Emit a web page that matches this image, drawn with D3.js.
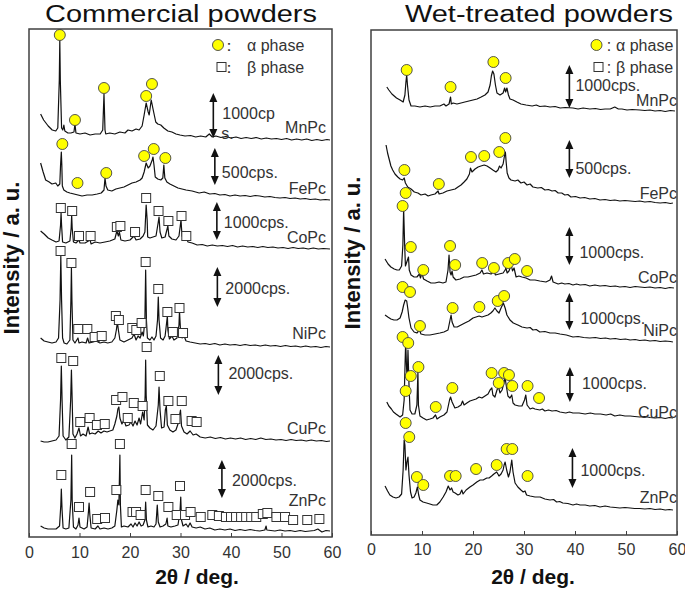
<!DOCTYPE html>
<html><head><meta charset="utf-8">
<script src="https://cdn.jsdelivr.net/npm/d3@7"></script>
<style>body{margin:0;background:#fff}svg{display:block}text{font-family:"Liberation Sans",Arial,sans-serif}</style>
</head><body><svg id="c" width="685" height="592"></svg>
<script>
// ---------- DATA ----------
const samples = ["MnPc","FePc","CoPc","NiPc","CuPc","ZnPc"];
const xTicks = [0,10,20,30,40,50,60];
// stacking offsets (a.u.) of each pattern
const comOffsets = [397,337,288,190,96,6];
const wetOffsets = [424,332,247,194,117,25];
const comScaleText = ["1000cp\ns.","500cps.","1000cps.","2000cps.","2000cps.","2000cps."];
const wetScaleText = ["1000cps.","500cps.","1000cps.","1000cps.","1000cps.","1000cps."];

// Commercial powders: [2theta, intensity a.u.]
const comMn = [[2.3,26],[2.9,20],[3.8,14],[4.6,10],[5.3,9],[5.7,12],[6.0,60],[6.1,100],[6.2,60],[6.45,12],[6.7,10],[6.9,15],[7.1,9],[7.7,7],[8.3,7],[8.9,8],[9.1,16],[9.3,7],[10.1,6],[11.1,7],[12.1,5],[13.1,6],[14.1,6],[14.6,10],[14.85,46],[15.05,10],[15.2,6],[16.0,7],[17.0,6],[18.0,8],[19.0,7],[19.6,10],[20.4,9],[21.2,11],[21.8,10],[22.4,14],[22.8,25],[23.2,37],[23.6,28],[23.8,25],[24.2,40],[24.6,30],[25.1,18],[25.5,16],[26.1,15],[26.7,12],[27.5,9],[28.3,8],[29.1,6],[29.9,5],[30.9,4],[32,4.5],[33,3],[34,4],[35,3],[35.7,6],[36.3,3],[37,4],[38,2.5],[39,3.5],[40,2],[41,3],[42,1.5],[43,2.5],[44,1.5],[45,2.5],[46,1],[47,2],[48,1],[49,1.5],[50,0.5],[51,1.5],[52,0],[53,1],[54,0],[55,1],[56,-0.5],[57,0.5],[58,-0.5],[59,0.5],[59.6,0]];
const comMnA = [[6.1,105],[9.1,20],[14.85,52],[23.2,44],[24.35,56]];

const comFe = [[2.3,37],[2.8,28],[3.3,20],[4.0,18],[4.55,16],[5.3,17],[5.7,14],[6.1,16],[6.25,35],[6.4,48],[6.5,35],[6.6,14],[6.9,10],[7.5,8],[8.1,7],[8.9,6],[9.7,5],[10.5,4],[11.5,5],[12.5,5],[13.5,6],[14.3,7],[14.85,10],[15.05,22],[15.25,14],[15.6,10],[16.4,9],[17.2,11],[18.0,12],[18.8,13],[19.6,15],[20.4,17],[21.2,18],[22.0,20],[22.4,22],[22.8,28],[23.2,37],[23.6,32],[23.95,34],[24.4,40],[24.55,43],[24.75,35],[25.0,23],[25.5,21],[26.1,20],[26.5,22],[26.7,35],[26.9,22],[27.3,18],[27.9,16],[28.7,14],[29.5,12],[30.3,11],[31.1,10],[32.3,9],[33.7,7],[34.7,8],[35.8,6],[36.8,6.5],[37.8,5],[38.8,5.5],[39.8,4],[40.8,5],[41.8,4],[42.8,4.5],[43.8,3.5],[44.8,4.5],[45.7,4],[46.7,3],[47.7,3.5],[48.7,2.5],[49.7,2],[50.7,2.5],[51.7,1.5],[52.7,2],[53.7,1],[54.7,1.5],[55.7,0.5],[56.7,1],[57.7,0],[58.7,0.5],[59.6,0]];
const comFeA = [[6.6,56],[9.6,17],[15.3,27],[22.8,44],[24.7,51],[27.0,42]];

const comCo = [[2.3,18],[3.0,15],[3.8,11],[4.55,9],[5.35,7],[5.95,8],[6.25,24],[6.35,36],[6.45,24],[6.65,7],[7.3,6],[8.1,8],[8.35,21],[8.45,34],[8.55,21],[8.8,7],[9.3,6],[9.9,9],[10.1,6],[11.1,6],[12.1,9],[12.3,5],[13.1,7],[14.05,6],[15.05,7],[16.0,8],[17.0,10],[17.4,18],[17.7,13],[17.9,17],[18.2,9],[19.0,8],[20.0,9],[20.8,13],[21.2,9],[22.0,10],[22.6,13],[22.95,17],[23.2,44],[23.4,29],[23.5,12],[23.95,11],[24.55,12],[25.15,13],[25.6,27],[25.75,32],[25.95,17],[26.3,11],[26.95,12],[27.5,23],[27.7,13],[28.3,10],[29.1,9],[29.7,13],[30.1,29],[30.3,13],[30.7,9],[31.1,11],[31.5,7],[32.3,6],[33.3,4],[34.3,4.5],[35.3,3],[36.3,4],[37.3,3],[38.3,3.5],[39.3,2.5],[40.3,3.5],[41.3,2],[42.3,3],[43.3,2],[44.3,2.5],[45.3,1.5],[46.3,2.5],[47.3,1.5],[48.3,2],[49.3,1],[50.3,1.5],[51.3,0.5],[52.3,1.5],[53.3,0.5],[54.3,1],[55.3,0],[56.3,1],[57.3,0],[58.3,0.5],[59.6,0]];
const comCoB = [[6.3,41],[8.55,38],[9.9,13],[12.2,13],[17.4,22],[18.1,23],[21.0,17],[23.2,51],[25.65,38],[27.6,28],[30.2,33],[31.15,13]];

const comNi = [[2.3,9],[3.0,6],[3.75,5],[4.55,4],[5.35,5],[5.85,9],[6.15,47],[6.3,91],[6.45,47],[6.65,9],[6.95,4],[7.5,3],[8.1,7],[8.3,47],[8.4,79],[8.5,47],[8.7,7],[9.1,4],[9.7,9],[9.9,4],[10.5,5],[11.3,4],[11.6,9],[11.9,4],[12.7,5],[13.3,6],[14.05,4],[14.85,5],[15.6,4],[16.4,5],[17.0,9],[17.3,17],[17.5,25],[17.7,17],[18.0,7],[18.8,5],[19.6,7],[20.4,9],[20.8,13],[21.2,7],[21.6,11],[22.0,9],[22.4,15],[22.65,11],[22.95,27],[23.1,77],[23.25,27],[23.45,9],[23.95,7],[24.35,10],[24.75,7],[25.15,11],[25.45,27],[25.6,50],[25.75,27],[26.05,9],[26.55,7],[26.95,11],[27.2,22],[27.4,31],[27.5,17],[27.8,8],[28.3,11],[28.7,7],[29.3,9],[29.7,22],[29.8,36],[30.0,17],[30.3,9],[30.7,11],[31.1,6],[31.9,5],[32.9,4],[33.9,3],[34.9,3.5],[35.8,2.5],[36.8,3.5],[37.8,2],[38.8,3],[39.8,2],[40.8,2.5],[41.8,1.5],[42.8,2.5],[43.8,1.5],[44.8,2],[45.8,1],[46.8,2],[47.8,1],[48.8,1.5],[49.8,0.5],[50.8,1.5],[51.8,0.5],[52.8,1],[53.8,0],[54.8,1],[55.8,0],[56.8,0.5],[57.8,-0.5],[58.8,0.5],[59.6,0]];
const comNiB = [[6.25,96],[8.4,84],[9.75,18],[11.55,18],[13.0,10],[14.4,11],[17.2,31],[17.8,27],[20.45,19],[21.25,17],[22.3,24],[23.1,85],[25.6,58],[27.4,35],[28.5,15],[29.8,39],[30.5,14]];

const comCu = [[2.3,0],[3.0,-1],[3.75,-1],[4.55,0],[5.35,1],[5.95,5],[6.25,41],[6.4,75],[6.55,41],[6.75,5],[7.3,1],[7.9,4],[8.25,41],[8.4,71],[8.55,41],[8.7,7],[9.1,3],[9.5,7],[9.9,13],[10.2,5],[10.7,7],[11.3,5],[11.7,14],[12.0,7],[12.5,8],[13.1,7],[13.7,10],[14.25,8],[14.85,10],[15.45,9],[16.0,10],[16.6,11],[17.0,17],[17.4,25],[17.6,32],[17.8,34],[18.0,23],[18.4,17],[18.8,21],[19.2,15],[19.8,16],[20.2,19],[20.6,15],[21.0,20],[21.4,16],[21.8,23],[22.1,17],[22.5,29],[22.8,21],[23.0,46],[23.1,81],[23.2,46],[23.45,16],[23.95,13],[24.55,11],[25.15,15],[25.6,36],[25.75,54],[25.95,31],[26.25,13],[26.75,14],[27.0,31],[27.2,35],[27.4,16],[27.9,11],[28.5,9],[29.1,11],[29.5,17],[30.0,31],[30.2,15],[30.7,9],[31.3,7],[31.9,10],[32.5,6],[33.1,7],[33.9,4],[34.9,3],[35.9,4],[36.9,2.5],[37.9,3.5],[38.9,2],[39.9,3],[40.9,2],[41.9,3],[42.9,1.5],[43.9,2.5],[44.9,1.5],[45.9,3],[46.9,1.5],[47.9,2],[48.9,1],[49.9,1.5],[50.9,0.5],[51.9,1.5],[52.9,0.5],[53.9,1],[54.9,0],[55.9,1],[56.9,0],[57.9,0.5],[58.9,-0.5],[59.6,0]];
const comCuB = [[6.4,83],[8.75,80],[10.15,19],[12.0,23],[13.45,16],[15.0,17],[17.25,41],[18.5,44],[19.55,23],[20.75,38],[22.5,35],[23.3,94],[25.9,65],[27.6,40],[29.0,22],[30.25,40],[32.2,20],[33.2,19]];

const comZn = [[2.3,5],[3.0,3],[3.75,2],[4.55,2],[5.35,2],[6.05,5],[6.3,26],[6.4,42],[6.55,21],[6.75,3],[7.3,2],[7.9,3],[8.3,31],[8.45,76],[8.55,31],[8.8,4],[9.3,2],[9.7,6],[9.9,13],[10.1,4],[10.9,2],[11.5,4],[11.8,21],[11.9,28],[12.05,16],[12.3,3],[13.1,2],[13.65,5],[14.05,2],[14.85,3],[15.65,2],[16.4,3],[17.0,5],[17.4,21],[17.6,31],[17.8,26],[18.0,76],[18.1,26],[18.3,4],[18.8,5],[19.6,4],[20.2,7],[20.6,4],[21.0,8],[21.4,5],[21.8,9],[22.2,5],[22.6,6],[22.95,11],[23.1,29],[23.25,11],[23.55,4],[24.15,5],[24.75,4],[25.15,7],[25.4,26],[25.6,9],[25.95,4],[26.55,5],[27.1,7],[27.35,13],[27.5,5],[28.1,4],[28.9,5],[29.5,6],[29.9,19],[30.05,34],[30.2,11],[30.5,5],[31.1,7],[31.5,4],[31.9,8],[32.3,4],[33.1,3],[33.9,4],[34.85,2],[35.8,3],[36.8,1],[37.8,2],[38.8,1],[39.8,2],[40.8,0.5],[41.8,1.5],[42.8,0.5],[43.8,1.5],[44.8,0.5],[45.7,0],[46.7,1],[46.95,5],[47.1,1],[47.9,0.5],[48.7,0],[49.7,1],[50.7,0],[51.7,0.5],[52.7,-0.5],[53.7,0.5],[54.7,-0.5],[55.6,0],[56.5,0.5],[57.2,2],[58.0,-1],[58.8,0.5],[59.6,0]];
const comZnB = [[6.4,56],[8.45,87],[9.9,24],[12.1,39],[13.5,12],[15.05,13],[17.3,41],[18.0,87],[20.5,19],[21.2,19],[22.1,16],[23.1,41],[25.6,35],[27.6,24],[29.25,16],[29.9,45],[30.9,16],[32.0,19],[34.0,14],[36.3,16],[37.6,15],[39.0,14],[40.0,14],[41.0,14],[42.0,14],[43.0,14],[44.0,14],[45.0,14],[46.3,17],[47.2,18],[49.0,14],[50.7,14],[52.3,11],[55.1,11],[57.5,12]];

// Wet-treated powders
const wetMn = [[3.1,24],[3.5,21],[4.1,17],[5.0,13],[5.7,11],[6.3,9],[6.65,16],[6.85,29],[7.0,36],[7.15,26],[7.45,11],[7.85,5],[8.6,5],[9.6,4],[10.6,5],[11.6,4],[12.55,5],[13.5,5],[14.3,7],[14.7,5],[15.3,7],[15.6,14],[15.75,7],[16.1,8],[16.85,7],[17.65,8],[18.4,9],[19.2,10],[20.0,11],[20.8,12],[21.6,14],[22.35,16],[22.95,19],[23.35,26],[23.6,35],[23.85,40],[24.1,37],[24.4,26],[24.7,18],[25.3,16],[25.9,18],[26.2,23],[26.4,19],[26.65,23],[26.95,16],[27.25,12],[27.85,11],[28.6,9],[29.4,7],[30.4,6],[31.6,5],[32.4,6],[33.1,4.5],[34.1,5],[35.1,4],[36.1,4.5],[37.1,3],[38.1,3.5],[39.6,3],[40.6,2],[41.6,3],[42.9,2],[44,2.5],[45,1.5],[45.9,2],[46.9,2],[47.8,4],[48.5,2],[49.2,2],[50.2,1],[51.2,1.5],[52.7,1],[53.7,0.5],[54.7,1],[55.7,0],[56.7,0.5],[57.7,-0.5],[58.7,0.5],[59.6,0]];
const wetMnA = [[7.0,41],[15.6,24],[24.0,49],[26.4,33]];

const wetFe = [[2.95,58],[3.25,50],[3.6,43],[3.9,37],[4.25,33],[4.7,29],[5.25,26],[5.7,24],[6.2,23],[6.5,25],[6.75,20],[7.2,16],[7.85,14],[8.5,11],[9.2,10],[9.8,8],[10.6,9],[11.2,7],[11.75,8],[12.55,9],[13.15,12],[13.35,9],[14.1,10],[14.9,12],[15.7,13],[16.5,14],[17.05,16],[17.65,18],[18.25,21],[18.8,24],[19.3,29],[19.5,35],[19.8,31],[20.4,34],[21.0,36],[21.55,37],[22.2,38],[22.75,37],[23.35,35],[23.9,33],[24.5,31],[24.9,33],[25.2,37],[25.5,35],[25.9,39],[26.2,48],[26.35,51],[26.5,41],[26.7,30],[27.05,25],[27.45,23],[28.25,22],[28.8,23],[29.4,20],[30.0,21],[30.6,18],[31.2,19],[31.75,16],[32.7,15],[33.4,15.5],[34.1,13],[34.8,13.5],[35.5,12],[36.1,12.5],[36.7,10],[37.4,10],[38.0,8],[38.6,8.5],[39.2,6],[40.1,6.5],[41.0,5],[41.9,5.5],[42.9,4],[43.9,4.5],[44.9,3],[45.9,3.5],[46.9,2.5],[47.8,3],[48.8,2],[49.8,2.5],[50.8,2],[51.8,1.5],[52.7,2],[53.7,1],[54.7,1.5],[55.7,0.5],[56.7,0],[57.7,0.5],[58.7,-0.5],[59.2,0]];
const wetFeA = [[6.55,33],[13.3,19],[19.6,46],[22.2,47],[25.15,51],[26.35,65]];

const wetCo = [[2.75,29],[3.35,24],[3.9,21],[4.55,19],[5.1,18],[5.55,18],[6.0,22],[6.25,43],[6.4,79],[6.6,43],[6.75,22],[7.15,28],[7.35,31],[7.5,18],[7.85,13],[8.45,11],[9.0,11],[9.5,14],[9.7,10],[10.0,15],[10.3,9],[11.0,7],[11.75,5],[12.55,5],[13.35,6],[14.1,5],[14.7,6],[15.1,18],[15.3,33],[15.5,16],[15.7,13],[15.9,17],[16.1,11],[16.65,8],[17.45,9],[18.25,11],[19.0,11],[19.8,12],[20.6,13],[21.4,15],[21.75,18],[22.05,14],[22.75,15],[23.55,14],[24.1,17],[24.4,13],[25.1,14],[25.9,15],[26.3,18],[26.45,20],[26.7,15],[27.05,17],[27.5,23],[27.75,17],[28.05,20],[28.45,11],[29.0,12],[29.6,11],[30.4,10],[31.2,8],[32.15,8],[33.1,7],[34.3,6],[35.1,8],[35.4,12],[35.7,6],[36.7,4],[37.4,5],[38.0,4],[38.8,4.5],[39.6,3],[40.3,4],[41.0,3],[42.0,3.5],[42.9,2],[43.9,3],[44.9,2],[45.9,2.5],[46.9,1.5],[47.9,2],[48.8,1],[49.8,1.5],[50.8,0.5],[51.8,1.5],[52.7,1],[53.7,0.5],[54.7,1],[55.7,0],[56.7,0.5],[57.7,-0.5],[58.6,0.5],[59.4,0]];
const wetCoA = [[6.2,82],[6.8,95],[7.8,41],[10.25,18],[15.5,42],[16.5,23],[21.8,25],[24.1,20],[26.9,25],[28.2,29],[30.6,17]];

const wetNi = [[2.75,26],[3.3,24],[3.9,22],[4.5,21],[5.1,21],[5.7,23],[6.1,29],[6.4,36],[6.7,41],[7.0,40],[7.2,33],[7.45,23],[7.85,13],[8.45,9],[9.0,8],[9.5,11],[9.8,7],[10.6,6],[11.55,6],[12.55,7],[13.5,8],[14.3,9],[15.1,11],[15.5,21],[15.7,26],[15.9,19],[16.3,14],[16.9,14],[17.65,16],[18.4,18],[19.2,20],[20.0,23],[20.6,24],[21.2,25],[21.75,24],[22.35,25],[22.95,26],[23.5,28],[23.9,30],[24.3,33],[24.7,30],[25.1,28],[25.5,33],[25.95,38],[26.3,33],[26.65,26],[27.25,21],[27.9,18],[28.8,16],[29.6,14],[30.6,13],[31.2,13.5],[31.75,11],[32.4,11.5],[33.1,9],[34.1,9.5],[35.1,8],[36.1,8],[37.05,7],[38.3,6],[39.6,4],[40.6,4.5],[41.7,3.5],[42.9,3],[44.0,3.5],[45.0,2.5],[46.0,3],[46.9,2],[47.9,2.5],[48.9,1.5],[49.9,2],[50.8,1],[51.8,1.5],[52.7,0.5],[53.7,1],[54.7,0],[55.7,0.5],[56.7,-0.5],[57.7,0],[58.7,-0.5],[59.2,-1]];
const wetNiA = [[6.2,54],[7.65,49],[9.6,15],[16.0,33],[21.25,34],[24.85,40],[26.1,45]];

const wetCu = [[3.1,16],[3.5,12],[4.0,9],[4.4,6],[4.9,4],[5.7,1],[6.2,3],[6.5,18],[6.7,58],[6.8,76],[6.95,53],[7.1,38],[7.25,68],[7.45,33],[7.65,8],[8.05,4],[8.6,4],[9.0,13],[9.2,46],[9.3,13],[9.6,2],[10.2,0],[10.9,-2],[11.55,-1],[12.15,0],[12.65,3],[12.95,-1],[13.5,1],[14.3,3],[14.9,6],[15.4,18],[15.6,21],[15.9,16],[16.45,10],[17.05,11],[17.65,13],[17.95,17],[18.25,13],[18.8,15],[19.4,17],[20.0,18],[20.6,19],[21.2,21],[21.75,20],[22.35,22],[22.95,24],[23.35,28],[23.7,30],[23.9,23],[24.3,21],[24.7,28],[25.0,31],[25.3,25],[25.7,28],[26.1,36],[26.3,40],[26.5,33],[26.85,22],[27.25,20],[27.6,23],[27.85,15],[28.25,13],[29.0,12],[29.6,12],[30.1,18],[30.35,23],[30.6,13],[31.2,9],[31.7,10],[32.15,9],[33.1,8],[33.6,9],[34.1,7],[34.8,8],[35.5,7],[36.3,7.5],[37.05,6],[38.2,5],[38.9,6],[39.6,5],[40.8,5],[42.0,4],[43.0,5],[43.9,4],[45.0,4],[46.1,3],[47.0,4],[47.8,2],[48.8,3],[49.8,2],[50.8,2],[51.7,1.5],[52.7,1],[53.7,1.5],[54.7,0.5],[55.7,0],[56.7,0.5],[57.7,-0.5],[58.5,0.5],[59.2,0]];
const wetCuA = [[6.2,81],[7.3,75],[9.3,51],[7.8,42],[6.8,27],[12.7,11],[15.95,30],[23.65,45],[26.1,45],[27.05,43],[25.05,35],[27.7,32],[30.7,32],[32.95,20]];

const wetZn = [[2.75,24],[3.25,19],[3.7,15],[4.3,13],[4.9,12],[5.5,13],[6.0,16],[6.3,40],[6.5,70],[6.65,65],[6.85,40],[7.05,48],[7.25,53],[7.45,35],[7.75,18],[8.05,12],[8.45,13],[8.8,17],[9.1,23],[9.35,15],[9.6,10],[10.2,8],[10.9,7],[11.55,6],[12.15,5],[12.9,5],[13.5,8],[14.15,13],[14.7,18],[15.15,24],[15.5,20],[15.8,22],[16.1,18],[16.5,17],[17.05,15],[17.45,16],[17.8,20],[18.05,16],[18.65,20],[19.4,23],[20.0,25],[20.75,28],[21.4,30],[22.0,30],[22.7,32],[23.15,32],[23.65,34],[24.1,36],[24.65,38],[25.1,34],[25.5,36],[25.9,40],[26.1,45],[26.3,48],[26.6,40],[26.95,33],[27.25,38],[27.6,50],[27.85,38],[28.25,27],[28.8,23],[29.4,20],[29.85,18],[30.2,19],[30.5,15],[31.2,14],[32.15,13],[33.15,13],[34.1,11],[35.1,10],[35.8,10.5],[36.4,8],[37.0,8.5],[37.6,7],[38.6,6.5],[39.6,5],[40.3,6],[41.0,5],[42.0,5],[42.9,4],[43.9,4.5],[44.9,3],[45.9,4],[46.9,3],[47.9,2.5],[48.8,2],[49.8,2.5],[50.8,2],[51.7,1.5],[52.7,1.5],[53.7,1],[54.7,1.5],[55.7,0.5],[56.7,1],[57.7,0],[58.5,0.5],[59.2,0]];
const wetZnA = [[6.8,87],[7.5,73],[9.0,33],[10.25,25],[15.5,34],[16.6,34],[20.6,41],[24.65,45],[26.6,61],[27.7,61],[30.7,34]];

const comTraces = [comMn, comFe, comCo, comNi, comCu, comZn];
const comAlpha = [comMnA, comFeA, [], [], [], []];
const comBeta = [[], [], comCoB, comNiB, comCuB, comZnB];
const wetTraces = [wetMn, wetFe, wetCo, wetNi, wetCu, wetZn];
const wetAlpha = [wetMnA, wetFeA, wetCoA, wetNiA, wetCuA, wetZnA];

// ---------- LAYOUT ----------
const panels = [
  {title:"Commercial powders", titleX:181, titleLen:272, x0:29, x1:332, y0:29, y1:537, yMax:508,
   traces:comTraces, offsets:comOffsets, alpha:comAlpha, beta:comBeta, scaleText:comScaleText,
   barX:[36.5,36.8,37.2,37.3,37.5,38.2], bar:[[2,47],[15,52],[9,47],[40,80],[46,86],[33,71]],
   textDx:[9,7,7,8,10,10], textI:[27,28,27,59,68,51], nameI:[13,12,12,14,13,31], nameX:326,
   yLabel:[19,258], xLabelX:197, tickPad:10,
   legend:{cx:218, cy:45, sx:221.5, sy:67, colon:"：", colonX:229, textX:247}},
  {title:"Wet-treated powders", titleX:539, titleLen:268, x0:371, x1:677, y0:30, y1:535, yMax:505,
   traces:wetTraces, offsets:wetOffsets, alpha:wetAlpha, beta:[[],[],[],[],[],[]], scaleText:wetScaleText,
   barX:[38.9,38.9,38.9,38.9,39.0,39.5], bar:[[3,46],[25,63],[23,61],[11,48],[16,51],[22,62]],
   textDx:[6,6,10,11,12,8], textI:[26,35,36,23,35,40], nameI:[11,10,11,11,6,13], nameX:677,
   yLabel:[360,253], xLabelX:533, tickPad:9,
   legend:{cx:596.5, cy:45, sx:598.5, sy:67, colon:":", colonX:609, textX:616}}
];

const svg = d3.select("#c");
const ink = "#333";

panels.forEach(p => {
  const x = d3.scaleLinear().domain([0,60]).range([p.x0, p.x1]);
  const y = d3.scaleLinear().domain([0,p.yMax]).range([p.y1, p.y0]);
  const g = svg.append("g");

  // title
  g.append("text").attr("x", p.titleX).attr("y", 22).attr("text-anchor","middle")
    .attr("font-size", 23).attr("fill","#111")
    .attr("textLength", p.titleLen).attr("lengthAdjust","spacingAndGlyphs").text(p.title);

  // traces
  const line = d3.line().x(d => x(d[0]));
  p.traces.forEach((tr, i) => {
    g.append("path").datum(tr)
      .attr("d", line.y(d => y(p.offsets[i] + d[1])))
      .attr("fill","none").attr("stroke","#111").attr("stroke-width",1.2).attr("stroke-linejoin","round");
  });

  // scale bars and names
  p.traces.forEach((tr, i) => {
    const bx = x(p.barX[i]);
    const yt = y(p.offsets[i] + p.bar[i][1]);
    const yb = y(p.offsets[i] + p.bar[i][0]);
    const hl = 9, hw = 4;
    g.append("line").attr("x1",bx).attr("x2",bx).attr("y1",yt+hl-1).attr("y2",yb-hl+1)
      .attr("stroke","#111").attr("stroke-width",1.6);
    g.append("path").attr("d",`M${bx},${yt}L${bx-hw},${yt+hl}L${bx+hw},${yt+hl}Z`).attr("fill","#111");
    g.append("path").attr("d",`M${bx},${yb}L${bx-hw},${yb-hl}L${bx+hw},${yb-hl}Z`).attr("fill","#111");
    const lines = p.scaleText[i].split("\n");
    lines.forEach((t, k) => {
      g.append("text").attr("x", bx + p.textDx[i] - (k ? 1 : 0))
        .attr("y", y(p.offsets[i] + p.textI[i]) + k*20).attr("dy","0.35em")
        .attr("font-size",16).attr("fill",ink).text(t);
    });
    g.append("text").attr("x", p.nameX).attr("y", y(p.offsets[i] + p.nameI[i])).attr("dy","0.35em")
      .attr("text-anchor","end").attr("font-size",16).attr("fill",ink).text(samples[i]);
  });

  // markers
  p.beta.forEach((ms, i) => {
    g.selectAll(null).data(ms).enter().append("rect")
      .attr("x", d => x(d[0]) - 4.5).attr("y", d => y(p.offsets[i] + d[1]) - 4.5)
      .attr("width",9).attr("height",9).attr("fill","#fff").attr("stroke","#333").attr("stroke-width",1);
  });
  p.alpha.forEach((ms, i) => {
    g.selectAll(null).data(ms).enter().append("circle")
      .attr("cx", d => x(d[0])).attr("cy", d => y(p.offsets[i] + d[1])).attr("r",5.5)
      .attr("fill","#ffff00").attr("stroke","#444").attr("stroke-width",0.9);
  });

  // legend
  const L = p.legend;
  g.append("circle").attr("cx",L.cx).attr("cy",L.cy).attr("r",5.5).attr("fill","#ffff00").attr("stroke","#444").attr("stroke-width",0.9);
  g.append("rect").attr("x",L.sx-4.5).attr("y",L.sy-4.5).attr("width",9).attr("height",9).attr("fill","#fff").attr("stroke","#333");
  [[L.cy,"α phase"],[L.sy,"β phase"]].forEach(([cy,t]) => {
    g.append("text").attr("x",L.colonX).attr("y",cy).attr("dy","0.35em").attr("text-anchor","middle")
      .attr("font-size",16).attr("fill",ink).text(L.colon);
    g.append("text").attr("x",L.textX).attr("y",cy).attr("dy","0.35em")
      .attr("font-size",16).attr("fill",ink).text(t);
  });

  // frame
  g.append("rect").attr("x",p.x0).attr("y",p.y0).attr("width",p.x1-p.x0).attr("height",p.y1-p.y0)
    .attr("fill","none").attr("stroke","#404040").attr("stroke-width",1.5);

  // axis
  const ax = g.append("g").attr("transform",`translate(0,${p.y1})`)
    .call(d3.axisBottom(x).tickValues(xTicks).tickSizeInner(-4).tickSizeOuter(0).tickPadding(p.tickPad));
  ax.select(".domain").remove();
  ax.selectAll(".tick line").attr("stroke","#404040");
  ax.selectAll(".tick text").attr("font-size",16).attr("fill",ink).attr("font-family",'"Liberation Sans",Arial,sans-serif');

  // axis titles
  g.append("text").attr("x",p.xLabelX).attr("y",584).attr("text-anchor","middle")
    .attr("font-size",21).attr("font-weight","bold").attr("fill","#111").text("2θ / deg.");
  g.append("text").attr("transform",`translate(${p.yLabel[0]},${p.yLabel[1]}) rotate(-90)`)
    .attr("text-anchor","middle").attr("font-size",22).attr("font-weight","bold").attr("fill","#111")
    .text("Intensity / a. u.");
});
</script>
</body></html>
